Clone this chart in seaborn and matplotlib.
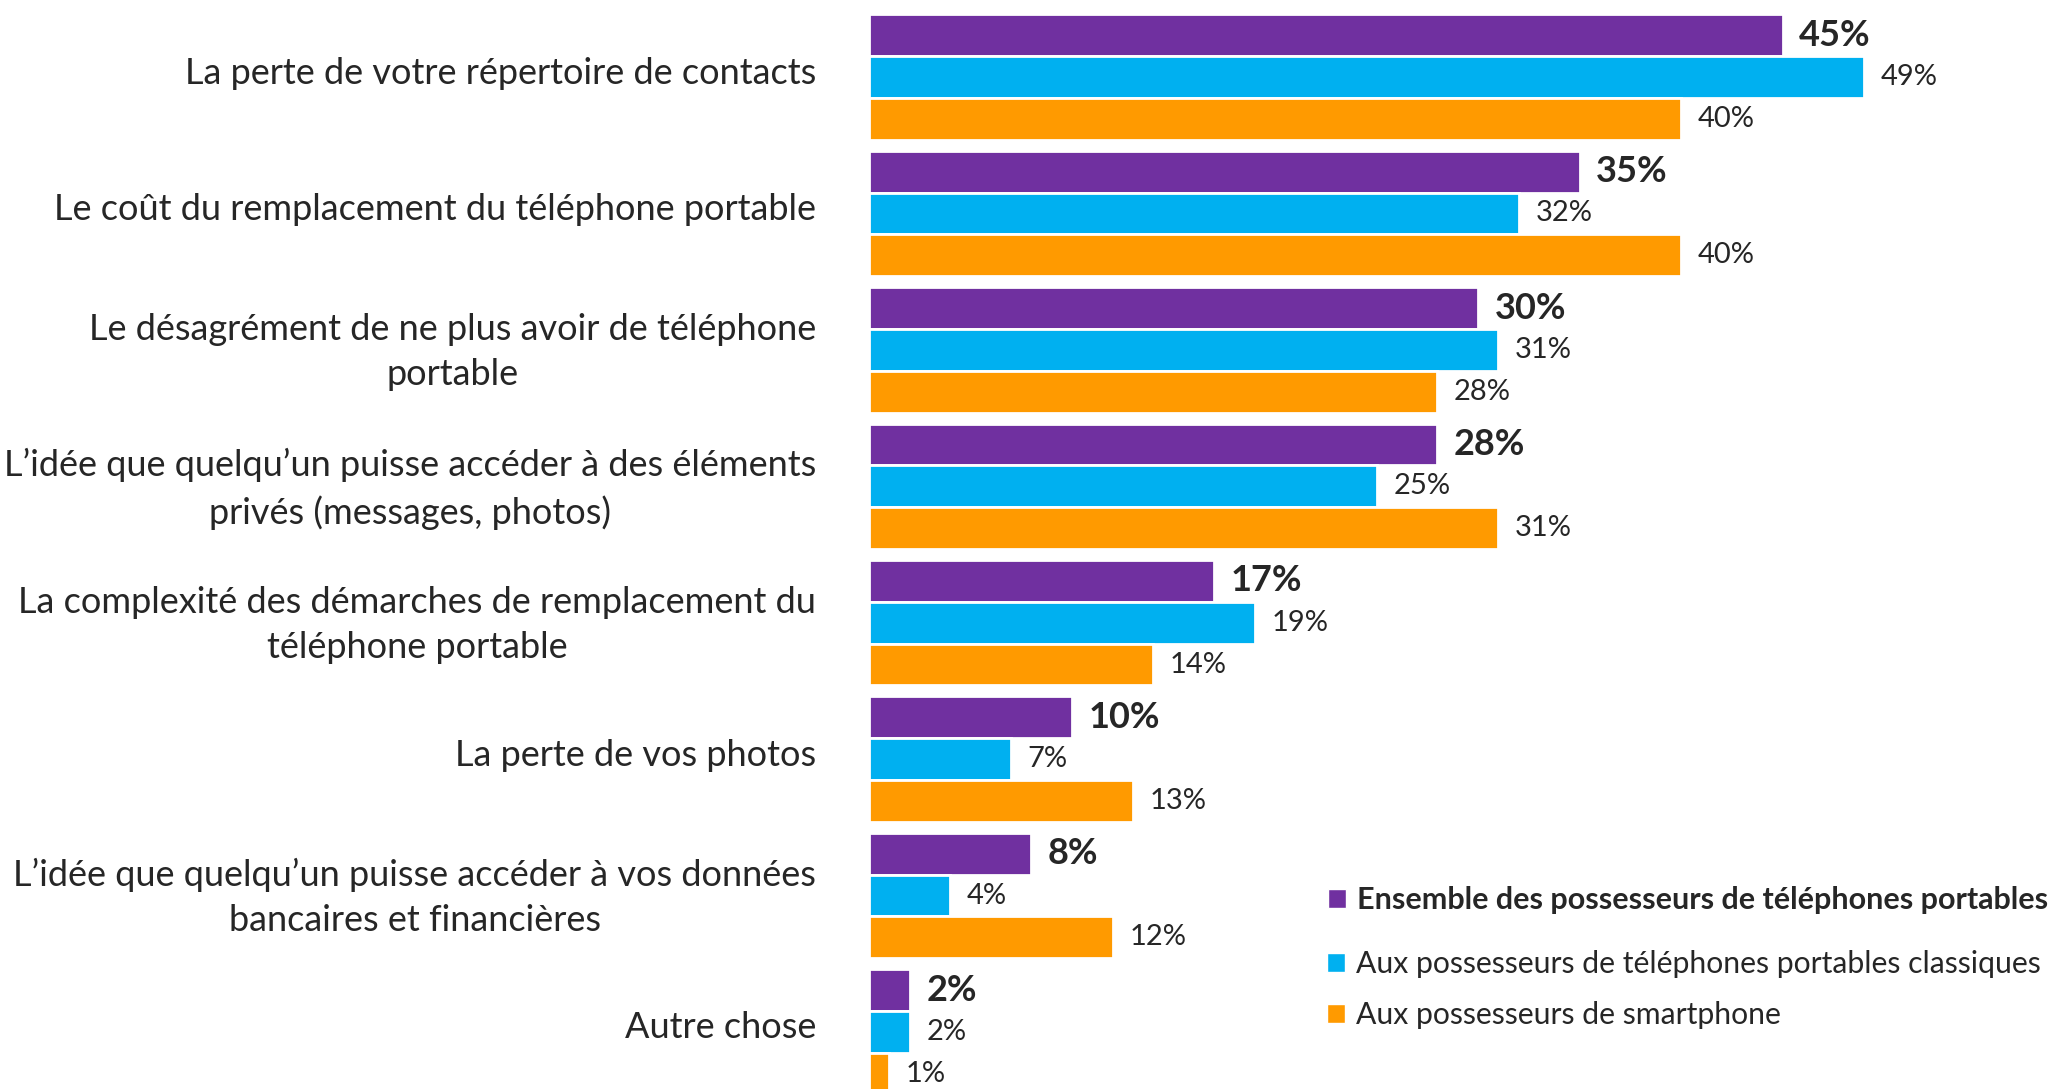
import numpy as np
import pandas as pd
import matplotlib
matplotlib.use('Agg')
import matplotlib.pyplot as plt
import matplotlib.transforms as mtrans
from matplotlib.patches import Patch
import seaborn as sns

sns.set_theme(style='white')
plt.rcParams['font.family'] = ['Lato', 'DejaVu Sans']

categories = [
    "La perte de votre répertoire de contacts",
    "Le coût du remplacement du téléphone portable",
    "Le désagrément de ne plus avoir de téléphone\nportable",
    "L\u2019idée que quelqu\u2019un puisse accéder à des éléments\nprivés (messages, photos)",
    "La complexité des démarches de remplacement du\ntéléphone portable",
    "La perte de vos photos",
    "L\u2019idée que quelqu\u2019un puisse accéder à vos données\nbancaires et financières",
    "Autre chose",
]
series = [
    "Ensemble des possesseurs de téléphones portables",
    "Aux possesseurs de téléphones portables classiques",
    "Aux possesseurs de smartphone",
]
ensemble = [45, 35, 30, 28, 17, 10, 8, 2]
classiques = [49, 32, 31, 25, 19, 7, 4, 2]
smartphone = [40, 40, 28, 31, 14, 13, 12, 1]
colors = ['#7030A0', '#00B0F0', '#FF9A00']

rows = []
for s, vals in zip(series, [ensemble, classiques, smartphone]):
    for c, v in zip(categories, vals):
        rows.append({'cat': c, 'serie': s, 'val': v})
df = pd.DataFrame(rows)

TEXT = '#262626'
fig = plt.figure(figsize=(20.58, 10.89), dpi=100)
ax = fig.add_axes([869 / 2058, 0, 1 - 869 / 2058, 1])

sns.barplot(data=df, y='cat', x='val', hue='serie', hue_order=series,
            order=categories, palette=colors, saturation=1, orient='h',
            width=0.92, edgecolor='white', linewidth=2, legend=False, ax=ax)

for i, cont in enumerate(ax.containers):
    if i == 0:
        ax.bar_label(cont, labels=[f'{v}%' for v in ensemble], padding=12,
                     fontsize=26, fontweight='bold', color=TEXT)
    else:
        vals = classiques if i == 1 else smartphone
        ax.bar_label(cont, labels=[f'{v}%' for v in vals], padding=12,
                     fontsize=21, color=TEXT)

ax.set_xlim(0, 58.57)
ax.set_ylim(7.418, -0.565)
ax.set_xlabel('')
ax.set_ylabel('')
ax.set_xticks([])
for sp in ax.spines.values():
    sp.set_visible(False)
ax.tick_params(axis='y', length=0, pad=38, labelsize=26, labelcolor=TEXT)
shift = mtrans.ScaledTranslation(0, 7 / 100, fig.dpi_scale_trans)
for lab in ax.get_yticklabels():
    lab.set_multialignment('center')
    lab.set_linespacing(1.45)
    lab.set_transform(lab.get_transform() + shift)

# legend: bold entry on its own, then the two other series
handles = [Patch(facecolor=c, edgecolor='white') for c in colors]
leg1 = fig.legend(handles[:1], series[:1], loc='upper left',
                  bbox_to_anchor=(1300 / 2058, 1 - 859 / 1089),
                  frameon=False, fontsize=22, handlelength=0.6,
                  handleheight=0.6, handletextpad=0.35)
leg1.get_texts()[0].set_fontweight('bold')
leg1.get_texts()[0].set_color(TEXT)
leg2 = fig.legend(handles[1:], series[1:], loc='upper left',
                  bbox_to_anchor=(1300 / 2058, 1 - 923 / 1089),
                  frameon=False, fontsize=21.7, handlelength=0.6,
                  handleheight=0.6, handletextpad=0.35, labelspacing=0.75)
for t in leg2.get_texts():
    t.set_color(TEXT)

plt.savefig('out.png', dpi=100)
